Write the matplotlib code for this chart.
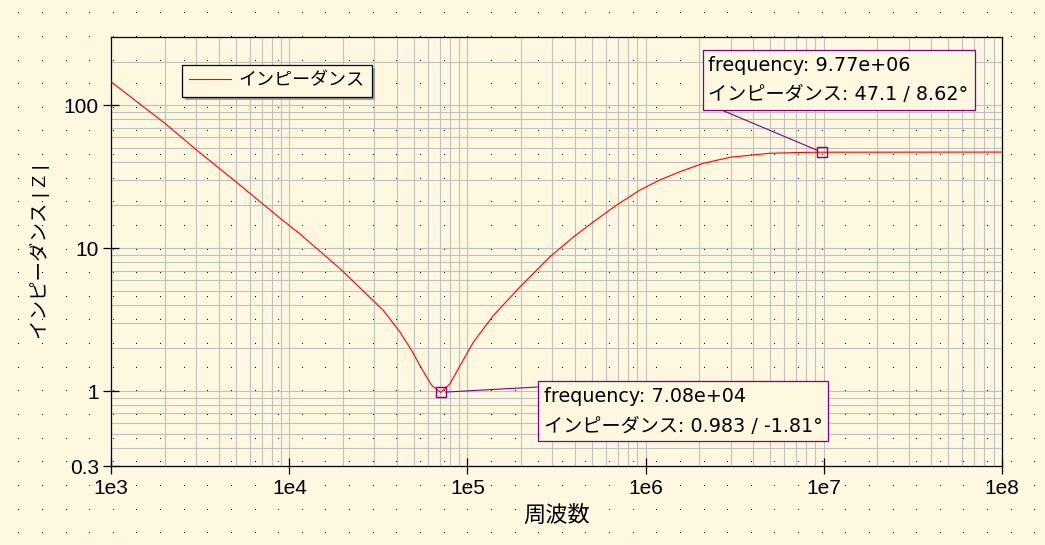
import matplotlib
matplotlib.use("Agg")
import matplotlib.pyplot as plt
import numpy as np
from matplotlib.ticker import FixedLocator, LogLocator, NullFormatter

plt.rcParams["font.family"] = ["Liberation Sans", "Noto Sans CJK JP"]

# impedance curve
freq = [1.0e3, 2.0e3, 3.0e3, 5.0e3, 8.9e3, 1.14e4, 1.92e4, 2.72e4, 3.37e4, 4.18e4,
        4.86e4, 5.53e4, 6.30e4, 7.08e4, 7.98e4, 9.08e4, 1.08e5, 1.40e5, 1.97e5, 2.90e5,
        3.93e5, 5.08e5, 6.88e5, 9.30e5, 1.20e6, 1.56e6, 2.11e6, 2.98e6, 4.99e6, 8.03e6,
        9.77e6, 1.0e8]
imp = [146, 75, 49, 29.3, 16.2, 12.7, 7.23, 4.77, 3.68, 2.59,
       1.93, 1.44, 1.10, 0.983, 1.13, 1.51, 2.21, 3.40, 5.37, 8.72,
       12.0, 15.3, 20.1, 25.6, 30.1, 34.4, 39.4, 43.4, 46.3, 47.0,
       47.1, 47.2]

marker_freq = [9.77e6, 7.08e4]
marker_imp = [47.1, 0.983]
marker_text = ["frequency: 9.77e+06\nインピーダンス: 47.1 / 8.62°",
               "frequency: 7.08e+04\nインピーダンス: 0.983 / -1.81°"]

xticks = [1e3, 1e4, 1e5, 1e6, 1e7, 1e8]
xticklabels = ["1e3", "1e4", "1e5", "1e6", "1e7", "1e8"]
yticks = [0.3, 1, 10, 100]
yticklabels = ["0.3", "1", "10", "100"]

cream = "#FFF8E1"
W, H = 1045, 545

fig = plt.figure(figsize=(W / 100, H / 100), dpi=100, facecolor=cream)

# dotted background pattern
bg = fig.add_axes([0, 0, 1, 1], zorder=0)
bg.axis("off")
bg.set_xlim(0, W)
bg.set_ylim(H, 0)
gx, gy = np.meshgrid(np.arange(18.3, W, 23.63), np.arange(13.3, H, 23.63))
bg.plot(gx.ravel(), gy.ravel(), ",", color="black")

ax = fig.add_axes([111.3 / W, 1 - 466 / H, (1001.7 - 111.3) / W, (466 - 37.3) / H], zorder=1)
ax.set_facecolor("none")
ax.set_xscale("log")
ax.set_yscale("log")
ax.set_xlim(1e3, 1e8)
ax.set_ylim(0.3, 300)

ax.xaxis.set_major_locator(FixedLocator(xticks))
ax.set_xticklabels(xticklabels)
ax.yaxis.set_major_locator(FixedLocator(yticks))
ax.set_yticklabels(yticklabels)
for axis in (ax.xaxis, ax.yaxis):
    axis.set_minor_locator(LogLocator(base=10, subs=np.arange(2, 10), numticks=50))
    axis.set_minor_formatter(NullFormatter())

ax.grid(True, which="both", color="#c0c0c0", lw=0.8, zorder=0)
ax.set_axisbelow(True)
ax.tick_params(which="major", direction="inout", length=12, width=0.9, labelsize=15, pad=3)
ax.tick_params(which="minor", length=0)
for sp in ax.spines.values():
    sp.set_linewidth(0.9)

ax.plot(freq, imp, color="red", lw=0.8, label="インピーダンス", zorder=3)

ax.set_xlabel("周波数", fontsize=16, labelpad=6)
ax.set_ylabel("インピーダンス | Z |", fontsize=14, labelpad=10)

leg = ax.legend(loc="upper left", bbox_to_anchor=(0.0794, 0.935), borderaxespad=0,
                fancybox=False, edgecolor="black", facecolor=cream, framealpha=1,
                fontsize=13, handlelength=2.3, handletextpad=0.45, borderpad=0.4,
                shadow={"ox": 2.2, "oy": -2.2, "facecolor": "#a0a0a0",
                        "edgecolor": "none", "alpha": 1})
leg.get_frame().set_linewidth(0.9)

ax.plot(marker_freq, marker_imp, "s", mfc="none", mec="purple", ms=7.2, mew=1, zorder=4)

# annotation boxes: text anchor in figure pixels, box corner the leader starts from
box_pos = [(708.5, 440.5), (543.5, 109.5)]
box_rel = [(0, 0), (0, 1)]
for f, z, txt, pos, rel in zip(marker_freq, marker_imp, marker_text, box_pos, box_rel):
    ax.annotate(txt, xy=(f, z), xycoords="data", xytext=pos, textcoords="figure pixels",
                ha="left", va="bottom", fontsize=13.8, linespacing=1.72,
                family=["DejaVu Sans", "Noto Sans CJK JP"],
                bbox=dict(boxstyle="square,pad=0.3", fc=cream, ec="purple", lw=0.9),
                arrowprops=dict(arrowstyle="-", color="purple", lw=0.8, relpos=rel,
                                shrinkA=0, shrinkB=3.5),
                zorder=5)

fig.savefig("out.png", dpi=100, facecolor=cream)
